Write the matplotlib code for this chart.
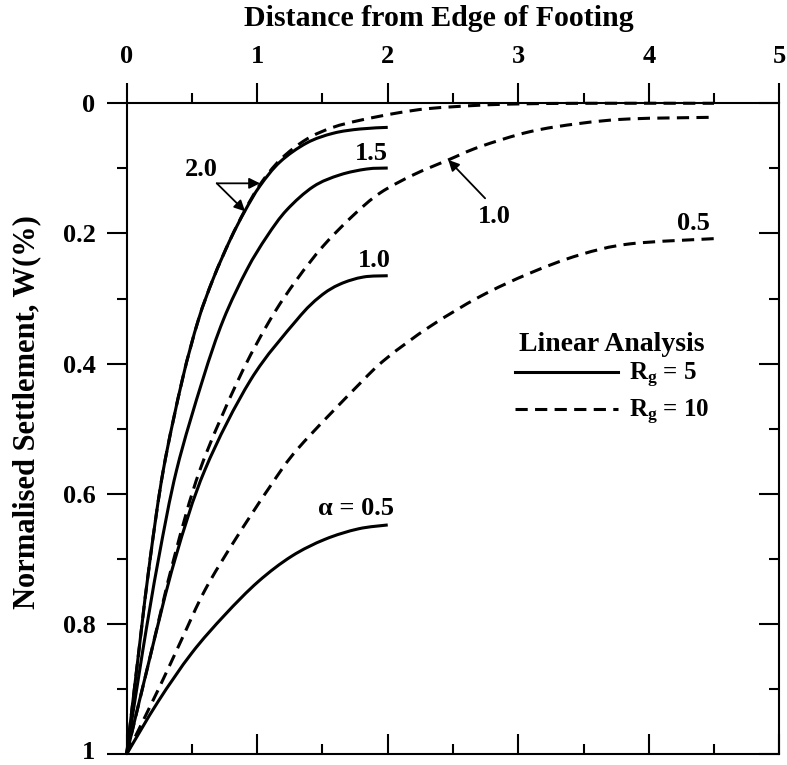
import matplotlib
matplotlib.use("Agg")
import numpy as np
import matplotlib.pyplot as plt
from matplotlib.lines import Line2D
from matplotlib.path import Path
from matplotlib.patches import PathPatch
from matplotlib.transforms import ScaledTranslation

plt.rcParams["font.family"] = ["Liberation Serif", "DejaVu Serif"]
plt.rcParams["font.weight"] = "bold"
plt.rcParams["mathtext.fontset"] = "custom"
plt.rcParams["mathtext.rm"] = "Liberation Serif:bold"
plt.rcParams["mathtext.it"] = "Liberation Serif:bold"
plt.rcParams["mathtext.bf"] = "Liberation Serif:bold"

# ---- R_g = 5 (solid), footing edge distance 0..2 ----
x_r5_a05 = [0, 0.242, 0.498, 0.753, 1.008, 1.264, 1.52, 1.775, 2.0]
w_r5_a05 = [1.0, 0.919, 0.845, 0.786, 0.735, 0.696, 0.670, 0.654, 0.648]

x_r5_a10 = [0, 0.18, 0.37, 0.60, 0.95, 1.303, 1.481, 1.634, 1.813, 2.0]
w_r5_a10 = [1.0, 0.85, 0.701, 0.563, 0.425, 0.333, 0.297, 0.278, 0.267, 0.265]

x_r5_a15 = [0, 0.12, 0.243, 0.383, 0.582, 0.740, 0.920, 1.073, 1.226, 1.430, 1.634, 1.839, 2.0]
w_r5_a15 = [1.0, 0.845, 0.701, 0.563, 0.425, 0.333, 0.256, 0.205, 0.164, 0.128, 0.110, 0.101, 0.0995]

x_r5_a20 = [0, 0.10, 0.179, 0.281, 0.426, 0.549, 0.664, 0.792, 0.907, 1.021, 1.175, 1.379, 1.583, 1.788, 2.0]
w_r5_a20 = [1.0, 0.83, 0.701, 0.563, 0.425, 0.333, 0.269, 0.210, 0.165, 0.127, 0.090, 0.061, 0.046, 0.0395, 0.037]

# ---- R_g = 10 (dashed), footing edge distance 0..4.5 ----
x_r10_a05 = [0, 0.242, 0.421, 0.6, 0.83, 1.098, 1.315, 1.775, 1.99, 2.324, 2.707, 3.09, 3.47, 3.857, 4.5]
w_r10_a05 = [1.0, 0.901, 0.824, 0.748, 0.671, 0.589, 0.53, 0.433, 0.392, 0.343, 0.297, 0.261, 0.233, 0.216, 0.208]

x_r10_a10 = [0, 0.18, 0.36, 0.562, 0.855, 1.098, 1.303, 1.507, 1.737, 1.94, 2.196, 2.464, 2.707, 3.09, 3.47, 3.855, 4.5]
w_r10_a10 = [1.0, 0.85, 0.701, 0.563, 0.425, 0.333, 0.271, 0.219, 0.172, 0.138, 0.110, 0.087, 0.0667, 0.0436, 0.031, 0.024, 0.0215]

x_r10_a20 = [0, 0.10, 0.179, 0.281, 0.426, 0.549, 0.664, 0.792, 0.907, 1.021, 1.18, 1.38, 1.58, 1.79, 2.07, 2.32, 2.7, 3.0, 3.5, 4.5]
w_r10_a20 = [1.0, 0.83, 0.701, 0.563, 0.425, 0.333, 0.269, 0.210, 0.164, 0.125, 0.086, 0.055, 0.037, 0.026, 0.015, 0.008, 0.003, 0.001, 0.0, 0.0]

x_ticks = [0, 1, 2, 3, 4, 5]
x_ticklabels = ["0", "1", "2", "3", "4", "5"]
y_ticks = [0, 0.2, 0.4, 0.6, 0.8, 1.0]
y_ticklabels = ["0", "0.2", "0.4", "0.6", "0.8", "1"]
x_minor = [0.5, 1.5, 2.5, 3.5, 4.5]
y_minor = [0.1, 0.3, 0.5, 0.7, 0.9]

LW = 2.2
DASH = (0, (4.0, 2.4))
FS_TICK = 19
FS_LABEL = 19


def smooth_curve(ax, xs, ws, **kw):
    """Draw a line through the given points as a smooth Bezier path."""
    p = np.column_stack([xs, ws]).astype(float)
    n = len(p)
    verts = [p[0]]
    codes = [Path.MOVETO]
    for i in range(n - 1):
        p0 = p[i - 1] if i > 0 else p[i]
        p1 = p[i]
        p2 = p[i + 1]
        p3 = p[i + 2] if i + 2 < n else p[i + 1]
        verts += [p1 + (p2 - p0) / 6.0, p2 - (p3 - p1) / 6.0, p2]
        codes += [Path.CURVE4] * 3
    patch = PathPatch(Path(verts, codes), fill=False, edgecolor="black",
                      transform=ax.transData, clip_on=False, zorder=3,
                      capstyle="butt", joinstyle="round", **kw)
    ax.add_patch(patch)


fig = plt.figure(figsize=(7.87, 7.65), dpi=100)
pos = [0.1610, 0.01438, 0.8292, 0.8506]
ax = fig.add_axes(pos)
ax.set_xlim(0, 5)
ax.set_ylim(1, 0)

for s in ax.spines.values():
    s.set_linewidth(1.5)

# Labelled ticks on top and left, pointing outward
ax.set_xticks(x_ticks)
ax.set_xticklabels(x_ticklabels)
ax.set_yticks(y_ticks)
ax.set_yticklabels(y_ticklabels)
ax.set_xticks(x_minor, minor=True)
ax.set_yticks(y_minor, minor=True)
ax.tick_params(axis="x", which="both", top=True, bottom=False,
               labeltop=True, labelbottom=False, direction="out")
ax.tick_params(axis="y", which="both", left=True, right=False,
               labelleft=True, labelright=False, direction="out")
ax.tick_params(which="major", length=14.4, width=1.5, labelsize=FS_TICK)
ax.tick_params(which="minor", length=7.2, width=1.5)
ax.tick_params(axis="x", which="major", pad=11)
ax.tick_params(axis="y", which="major", pad=8)
for lab in ax.get_xticklabels() + ax.get_yticklabels():
    lab.set_fontweight("bold")

# keep the lowest y label inside the figure
last = ax.yaxis.get_major_ticks()[-1].label1
last.set_transform(last.get_transform()
                   + ScaledTranslation(0, 3 / 72, fig.dpi_scale_trans))

# Unlabelled inward ticks on bottom and right
axi = fig.add_axes(pos, sharex=ax, sharey=ax)
axi.patch.set_visible(False)
for s in axi.spines.values():
    s.set_visible(False)
axi.tick_params(axis="x", which="both", top=False, bottom=True,
                labeltop=False, labelbottom=False, direction="in")
axi.tick_params(axis="y", which="both", left=False, right=True,
                labelleft=False, labelright=False, direction="in")
axi.tick_params(which="major", length=14.4, width=1.5)
axi.tick_params(which="minor", length=7.2, width=1.5)

# Curves
for xs, ws in [(x_r5_a05, w_r5_a05), (x_r5_a10, w_r5_a10),
               (x_r5_a15, w_r5_a15), (x_r5_a20, w_r5_a20)]:
    smooth_curve(ax, xs, ws, linewidth=LW)
for xs, ws in [(x_r10_a05, w_r10_a05), (x_r10_a10, w_r10_a10),
               (x_r10_a20, w_r10_a20)]:
    smooth_curve(ax, xs, ws, linewidth=LW, linestyle=DASH)

# Curve labels
tkw = dict(fontsize=FS_LABEL, fontweight="bold", ha="center", va="center")
ax.text(0.575, 0.102, "2.0", **tkw)
ax.text(1.877, 0.077, "1.5", **tkw)
ax.text(1.90, 0.242, "1.0", **tkw)
ax.text(1.76, 0.622, "α = 0.5", **tkw)
ax.text(2.82, 0.174, "1.0", **tkw)
ax.text(4.34, 0.184, "0.5", **tkw)

akw = dict(arrowstyle="-|>", color="black", lw=1.3, mutation_scale=16,
           shrinkA=0, shrinkB=0)
ax.annotate("", xy=(1.021, 0.123), xytext=(0.69, 0.123), arrowprops=akw)
ax.annotate("", xy=(0.907, 0.166), xytext=(0.69, 0.123), arrowprops=akw)
ax.annotate("", xy=(2.464, 0.087), xytext=(2.746, 0.146), arrowprops=akw)

# Legend
handles = [Line2D([], [], color="black", lw=LW),
           Line2D([], [], color="black", lw=LW, linestyle=DASH)]
leg = ax.legend(handles, [r"$R_g$ = 5", r"$R_g$ = 10"],
                title="Linear Analysis", frameon=False,
                prop={"size": 18, "weight": "bold"},
                title_fontproperties={"size": 20, "weight": "bold"},
                handlelength=4.1, handletextpad=0.45, labelspacing=0.3,
                borderaxespad=0, borderpad=0,
                loc="upper left", bbox_to_anchor=(515 / 787, 1 - 332 / 765),
                bbox_transform=fig.transFigure)
leg._legend_box.sep = 3

# Axis titles
fig.text(439 / 787, 1 - 19 / 765, "Distance from Edge of Footing",
         fontsize=21.5, fontweight="bold", ha="center", va="center")
fig.text(27 / 787, 1 - 412 / 765, "Normalised Settlement, W(%)",
         fontsize=22, fontweight="bold", ha="center", va="center",
         rotation=90)

fig.savefig("out.png", dpi=100)
